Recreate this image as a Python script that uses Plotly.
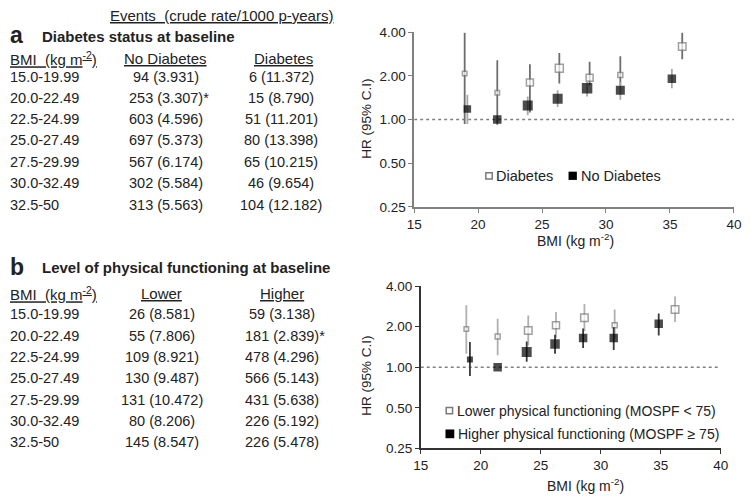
import plotly.graph_objects as go

W, H = 751, 502

# ---------------- data ----------------
bmi_bands = ["15.0-19.99", "20.0-22.49", "22.5-24.99", "25.0-27.49",
             "27.5-29.99", "30.0-32.49", "32.5-50"]

# panel a table
nodiab_events = [94, 253, 603, 697, 567, 302, 313]
nodiab_rates = [3.931, 3.307, 4.596, 5.373, 6.174, 5.584, 5.563]
diab_events = [6, 15, 51, 80, 65, 46, 104]
diab_rates = [11.372, 8.790, 11.201, 13.398, 10.215, 9.654, 12.182]

# panel b table
lower_events = [26, 55, 109, 130, 131, 80, 145]
lower_rates = [8.581, 7.806, 8.921, 9.487, 10.472, 8.206, 8.547]
higher_events = [59, 181, 478, 566, 431, 226, 226]
higher_rates = [3.138, 2.839, 4.296, 5.143, 5.638, 5.192, 5.478]

ref_index = 1  # reference group marked with *

# panel a chart
diab_bmi = [18.95, 21.5, 24.05, 26.35, 28.72, 31.12, 35.96]
diab_hr = [2.08, 1.53, 1.80, 2.26, 1.94, 2.03, 3.19]
diab_lo = [0.93, 0.92, 1.12, 1.77, 1.72, 1.72, 2.60]
diab_hi = [3.96, 2.56, 2.41, 2.88, 2.50, 2.73, 3.96]

nodiab_bmi = [19.16, 21.5, 23.88, 26.22, 28.52, 31.12, 35.15]
nodiab_hr = [1.18, 1.00, 1.25, 1.39, 1.64, 1.59, 1.91]
nodiab_lo = [0.93, 1.00, 1.07, 1.22, 1.44, 1.37, 1.64]
nodiab_hi = [1.48, 1.00, 1.44, 1.59, 1.85, 1.82, 2.23]

# panel b chart
lower_bmi = [18.80, 21.41, 23.96, 26.27, 28.64, 31.16, 36.19]
lower_hr = [1.92, 1.69, 1.87, 2.05, 2.33, 2.05, 2.68]
lower_lo = [1.26, 1.23, 1.45, 1.65, 1.85, 1.65, 2.17]
lower_hi = [2.88, 2.29, 2.42, 2.57, 2.95, 2.68, 3.35]

higher_bmi = [19.10, 21.41, 23.83, 26.19, 28.53, 31.08, 34.83]
higher_hr = [1.14, 1.00, 1.30, 1.49, 1.65, 1.65, 2.10]
higher_lo = [0.86, 1.00, 1.10, 1.26, 1.39, 1.34, 1.72]
higher_hi = [1.54, 1.00, 1.55, 1.74, 1.94, 1.98, 2.51]

y_ticks = [0.25, 0.5, 1, 2, 4]
y_ticktext = ["0.25", "0.50", "1.00", "2.00", "4.00"]
x_ticks = [15, 20, 25, 30, 35, 40]

# ---------------- styles ----------------
FONT = "Liberation Sans, Arial, sans-serif"
TXT = "#222222"
diab_sizes = [4.5, 4.5, 7, 8, 7, 5, 7.5]
nodiab_sizes = [7.5, 8.5, 10, 10, 10.5, 9, 8.5]
lower_sizes = [4.5, 5, 7.5, 7, 7.5, 5, 7.5]
higher_sizes = [6, 8.5, 10, 9.5, 8.5, 8.5, 8.5]


def px(x):
    return x / W


def py(y):
    return 1 - y / H


def err(hr, lo, hi):
    return ([h - v for v, h in zip(hr, hi)], [v - l for v, l in zip(hr, lo)])


fig = go.Figure()


def add_series(xs, hr, lo, hi, sizes, xa, ya, filled, errcol):
    up, dn = err(hr, lo, hi)
    fig.add_trace(go.Scatter(
        x=xs, y=hr, mode="markers", xaxis=xa, yaxis=ya, showlegend=False,
        marker=dict(symbol="square", size=sizes,
                    color="#000000" if filled else "#ffffff",
                    line=dict(color="#000000" if filled else "#7a7a7a",
                              width=0 if filled else 1.5)),
        error_y=dict(type="data", symmetric=False, array=up, arrayminus=dn,
                     width=0, thickness=1.8, color=errcol),
        hoverinfo="x+y"))


add_series(diab_bmi, diab_hr, diab_lo, diab_hi, diab_sizes, "x", "y", False, "#6e6e6e")
add_series(nodiab_bmi, nodiab_hr, nodiab_lo, nodiab_hi, nodiab_sizes, "x", "y", True, "#a8a8a8")
add_series(lower_bmi, lower_hr, lower_lo, lower_hi, lower_sizes, "x2", "y2", False, "#b0b0b0")
add_series(higher_bmi, higher_hr, higher_lo, higher_hi, higher_sizes, "x2", "y2", True, "#3a3a3a")

axis_common = dict(showgrid=False, zeroline=False, showline=True, linewidth=1.6,
                   ticks="outside", ticklen=4, tickwidth=1.3,
                   tickfont=dict(family=FONT, size=13.5, color=TXT))

fig.update_layout(
    width=W, height=H, margin=dict(l=0, r=0, t=0, b=0),
    paper_bgcolor="white", plot_bgcolor="white", showlegend=False,
    xaxis=dict(domain=[px(415), px(741.7)], range=[15, 40], tickvals=x_ticks,
               anchor="y", linecolor="#808080", tickcolor="#808080", **axis_common),
    yaxis=dict(domain=[py(206), py(26)], type="log",
               range=[-0.60206, 0.60206], tickvals=y_ticks, ticktext=y_ticktext,
               anchor="x", linecolor="#808080", tickcolor="#808080", **axis_common),
    xaxis2=dict(domain=[px(421.7), px(728.3)], range=[15, 40], tickvals=x_ticks,
                anchor="y2", linecolor="#333333", tickcolor="#333333", **axis_common),
    yaxis2=dict(domain=[py(455), py(287.7)], type="log",
                range=[-0.60206, 0.60206], tickvals=y_ticks, ticktext=y_ticktext,
                anchor="x2", linecolor="#333333", tickcolor="#333333", **axis_common),
)

shapes = []
# reference lines at HR = 1
for xr, yr in (("x", "y"), ("x2", "y2")):
    shapes.append(dict(type="line", xref=xr, yref=yr, x0=15, x1=40, y0=1, y1=1,
                       line=dict(color="#808080", width=1.5, dash="dot"), layer="below"))

annotations = []


def text(x, y, s, size=14.5, anchor="left", bold=False, color=TXT, **kw):
    if bold:
        s = "<b>" + s + "</b>"
    annotations.append(dict(xref="paper", yref="paper", x=px(x), y=py(y), text=s,
                            showarrow=False, xanchor=anchor, yanchor="middle",
                            font=dict(family=FONT, size=size, color=color), **kw))


def legend_box(cx, cy, size, filled):
    h = size / 2
    shapes.append(dict(type="rect", xref="paper", yref="paper",
                       x0=px(cx - h), x1=px(cx + h), y0=py(cy + h), y1=py(cy - h),
                       fillcolor="#000000" if filled else "#ffffff",
                       line=dict(color="#000000" if filled else "#7a7a7a",
                                 width=0 if filled else 1.5)))


# ---------- panel a ----------
text(218.5, 9, "<u>Events  (crude rate/1000 p-years)</u>", size=15, anchor="center")
text(0, 29, "a", size=23, bold=True)
text(33, 30, "Diabetes status at baseline", size=15, bold=True)
text(0, 53, "<u>BMI  (kg m<sup>-2</sup>)</u>", size=15)
text(161, 53.5, "<u>No Diabetes</u>", size=15, anchor="center")
text(281, 53.5, "<u>Diabetes</u>", size=15, anchor="center")
rows_a = [72.0, 93.6, 115.5, 137.5, 159.5, 181.7, 203.9]
for i, yy in enumerate(rows_a):
    text(0, yy, bmi_bands[i])
    star = "*" if i == ref_index else ""
    text(161.5 + (3 if star else 0), yy,
         f"{nodiab_events[i]} ({nodiab_rates[i]:.3f}){star}", anchor="center")
    text(279, yy, f"{diab_events[i]} ({diab_rates[i]:.3f})", anchor="center")

text(366, 115, "HR (95% C.I)", size=13.5, anchor="center", textangle=-90)
text(580, 240, "BMI (kg m<sup>-2</sup>)", size=14, anchor="center")

legend_box(491.5, 174, 6.5, False)
text(496.5, 174.5, "Diabetes", size=14.5)
legend_box(577, 174, 8.5, True)
text(583, 174.5, "No Diabetes", size=14.5)

# ---------- panel b ----------
text(0, 268, "b", size=23, bold=True)
text(33, 268.5, "Level of physical functioning at baseline", size=15, bold=True)
text(0, 295, "<u>BMI  (kg m<sup>-2</sup>)</u>", size=15)
text(157, 295, "<u>Lower</u>", size=15, anchor="center")
text(280, 295, "<u>Higher</u>", size=15, anchor="center")
rows_b = [316.7, 338.7, 360.7, 382.7, 404.7, 426.7, 448.7]
for i, yy in enumerate(rows_b):
    text(0, yy, bmi_bands[i])
    text(157, yy, f"{lower_events[i]} ({lower_rates[i]:.3f})", anchor="center")
    star = "*" if i == ref_index else ""
    text(280 + (3 if star else 0), yy,
         f"{higher_events[i]} ({higher_rates[i]:.3f}){star}", anchor="center")

text(366, 380, "HR (95% C.I)", size=13.5, anchor="center", textangle=-90)
text(590, 493, "BMI (kg m<sup>-2</sup>)", size=14, anchor="center")

legend_box(451, 416, 6.5, False)
text(456.5, 416.5, "Lower physical functioning (MOSPF &lt; 75)", size=14)
legend_box(451.5, 440, 9, True)
text(457.5, 440.5, "Higher physical functioning (MOSPF ≥ 75)", size=14)

fig.update_layout(shapes=shapes, annotations=annotations)
fig.write_html("out.html", config={"displayModeBar": False},
               post_script="document.body.style.margin='0';document.body.style.overflow='hidden';")
